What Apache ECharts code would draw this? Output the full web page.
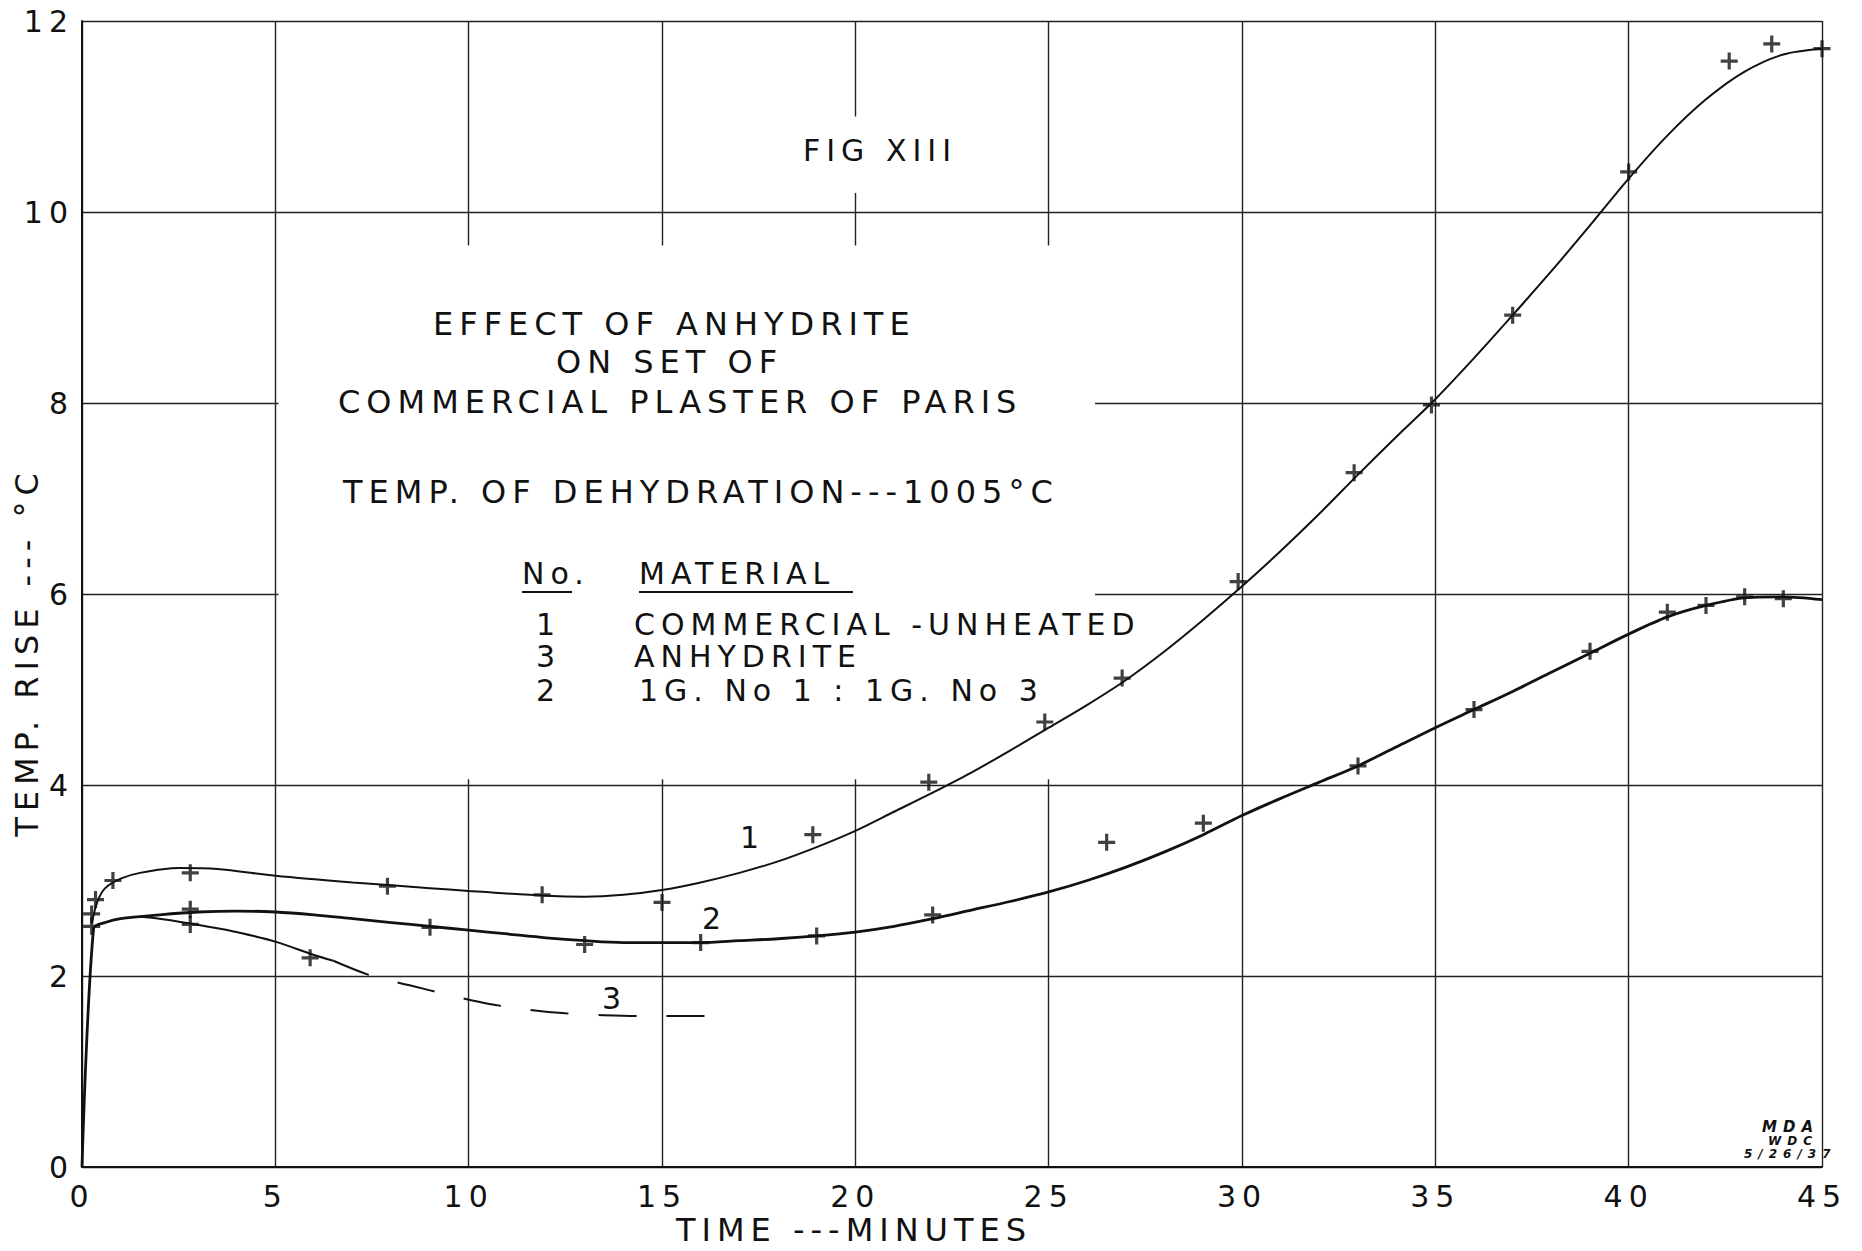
<!DOCTYPE html>
<html>
<head>
<meta charset="utf-8">
<title>Fig XIII</title>
<script src="https://cdn.jsdelivr.net/npm/echarts@6/dist/echarts.min.js"></script>
<style>
html,body{margin:0;padding:0;background:#fff;}
#container{width:1862px;height:1251px;}
#container text{letter-spacing:6px;}
</style>
</head>
<body>
<div id="container"></div>
<script>
// curve 1 - commercial plaster, unheated (drawn curve)
var curve1X = [0.25,0.4,0.6,1,1.5,2.5,3.5,5,7,9,10,12,13,14,15,16,17,18,19,20,21,22,23,24,25,26,27,28,29,30,31,32,33,34,35,36,37,38,39,40,41,42,43,44,45];
var curve1Y = [2.55,2.78,2.92,3.02,3.08,3.13,3.12,3.05,2.98,2.92,2.89,2.84,2.83,2.85,2.9,2.98,3.08,3.2,3.35,3.52,3.72,3.92,4.13,4.36,4.6,4.84,5.1,5.4,5.73,6.08,6.45,6.84,7.25,7.65,8.04,8.47,8.92,9.38,9.86,10.35,10.8,11.18,11.47,11.65,11.71];
// curve 1 observed points
var obs1X = [0.25,0.35,0.8,2.8,7.9,11.9,15,18.9,21.9,24.9,26.9,29.9,32.9,34.9,37,40,42.6,43.7,45];
var obs1Y = [2.65,2.8,3.0,3.08,2.94,2.85,2.77,3.48,4.03,4.66,5.12,6.13,7.27,7.98,8.92,10.42,11.58,11.76,11.71];

// curve 2 - 1g No.1 : 1g No.3
var curve2X = [0,0.3,0.6,1,2,3,4,5,6,7,8,9,10,11,12,13,14,15,16,17,18,19,20,21,22,23,24,25,26,27,28,29,30,31,32,33,34,35,36,37,38,39,40,41,42,43,44,45];
var curve2Y = [0,2.5,2.56,2.6,2.64,2.67,2.68,2.67,2.64,2.6,2.56,2.52,2.48,2.44,2.4,2.37,2.35,2.35,2.35,2.37,2.39,2.42,2.46,2.52,2.6,2.69,2.78,2.88,3.0,3.14,3.3,3.48,3.68,3.86,4.03,4.2,4.4,4.6,4.79,4.98,5.18,5.38,5.58,5.76,5.88,5.96,5.97,5.94];
var obs2X = [0.25,2.8,9,13,16,19,22,26.5,29,33,36,39,41,42,43,44];
var obs2Y = [2.52,2.7,2.51,2.33,2.35,2.42,2.64,3.4,3.6,4.2,4.79,5.4,5.81,5.88,5.97,5.95];

// curve 3 - anhydrite (solid part, then dashed)
var curve3X = [1.5,2,2.8,3.5,4,5,6,6.5];
var curve3Y = [2.62,2.6,2.55,2.5,2.46,2.36,2.22,2.16];
var curve3DashX = [6.5,7.5,8.5,9.5,10.5,11.5,12.5,13.5,14.5,16.3];
var curve3DashY = [2.16,2.0,1.9,1.8,1.71,1.65,1.61,1.59,1.58,1.58];
var obs3X = [2.8,5.9];
var obs3Y = [2.54,2.19];

var FONT = 'DejaVu Sans';
var INK = '#111';
var PLUS = 'path://M6.5,0H9.5V6.5H16V9.5H9.5V16H6.5V9.5H0V6.5H6.5Z';

function pairs(xs, ys){
  var out = [];
  for(var i=0;i<xs.length;i++){ out.push([xs[i], ys[i]]); }
  return out;
}

function curve(xs, ys, w, dash){
  return {
    type:'line', data:pairs(xs, ys), showSymbol:false, smooth:0.3,
    lineStyle:{color:INK, width:w, type:dash || 'solid'}, z:3, silent:true
  };
}
function marks(xs, ys){
  return {
    type:'scatter', data:pairs(xs, ys), symbol:PLUS, symbolSize:17,
    itemStyle:{color:INK}, z:4, silent:true
  };
}

var option = {
  backgroundColor:'#fff',
  animation:false,
  grid:{left:82, right:40, top:21, bottom:84, outerBoundsMode:'none'},
  xAxis:{
    type:'value', min:0, max:45, interval:5,
    axisLine:{show:true, lineStyle:{color:INK, width:2}},
    axisTick:{show:false},
    axisLabel:{fontSize:30, color:INK, fontFamily:FONT, margin:14},
    splitLine:{show:true, lineStyle:{color:'#222', width:1.4}}
  },
  yAxis:{
    type:'value', min:0, max:12, interval:2,
    axisLine:{show:true, lineStyle:{color:INK, width:2}},
    axisTick:{show:false},
    axisLabel:{fontSize:30, color:INK, fontFamily:FONT, margin:8},
    splitLine:{show:true, lineStyle:{color:'#222', width:1.4}}
  },
  series:[
    curve(curve1X, curve1Y, 2),
    curve(curve2X, curve2Y, 2.8),
    curve(curve3X, curve3Y, 2),
    curve(curve3DashX, curve3DashY, 2, [38, 30]),
    marks(obs1X, obs1Y),
    marks(obs2X, obs2Y),
    marks(obs3X, obs3Y)
  ]
};

var chart = echarts.init(document.getElementById('container'), null, {renderer:'svg'});
chart.setOption(option);

// white patches where the grid was left blank behind the lettering
function blank(x0, x1, y0, y1){
  var a = chart.convertToPixel({gridIndex:0}, [x0, y1]);
  var b = chart.convertToPixel({gridIndex:0}, [x1, y0]);
  return {type:'rect', z:1, silent:true, shape:{x:a[0], y:a[1], width:b[0]-a[0], height:b[1]-a[1]}, style:{fill:'#fff'}};
}
function txt(s, x, y, size, align, extra, rot){
  var st = {text:s, fontSize:size, fontFamily:FONT, fill:INK, align:align || 'left', verticalAlign:'middle'};
  if(extra){ for(var k in extra){ st[k] = extra[k]; } }
  return {type:'text', z:10, silent:true, x:x, y:y, rotation:rot || 0, style:st};
}
function uline(x1, x2, y){
  return {type:'line', z:10, silent:true, shape:{x1:x1, y1:y, x2:x2, y2:y}, style:{stroke:INK, lineWidth:2}};
}
var hand = {fontWeight:'bold', fontStyle:'italic'};

chart.setOption({
  graphic:[
    blank(5.08, 26.2, 4.06, 9.65),
    blank(19.85, 20.15, 10.2, 11.0),
    txt('TIME ---MINUTES', 676, 1230, 32),
    txt('TEMP. RISE --- °C', 27, 652, 32, 'center', null, Math.PI / 2),
    txt('FIG XIII', 803, 150, 30),
    txt('EFFECT OF ANHYDRITE', 433, 324, 32),
    txt('ON SET OF', 556, 362, 32),
    txt('COMMERCIAL PLASTER OF PARIS', 338, 402, 32),
    txt('TEMP. OF DEHYDRATION---1005°C', 343, 492, 32),
    txt('No.', 522, 573, 30),
    uline(522, 572, 592),
    txt('MATERIAL', 639, 573, 30),
    uline(639, 853, 592),
    txt('1', 536, 624, 30),
    txt('COMMERCIAL -UNHEATED', 634, 624, 30),
    txt('3', 536, 656, 30),
    txt('ANHYDRITE', 634, 656, 30),
    txt('2', 536, 690, 30),
    txt('1G. No 1 : 1G. No 3', 639, 690, 30),
    txt('1', 740, 837, 30),
    txt('2', 702, 918, 30),
    txt('3', 602, 998, 30),
    txt('MDA', 1762, 1127, 15, 'left', hand),
    txt('WDC', 1768, 1141, 12, 'left', hand),
    txt('5/26/37', 1744, 1154, 12, 'left', hand)
  ]
});
</script>
</body>
</html>
